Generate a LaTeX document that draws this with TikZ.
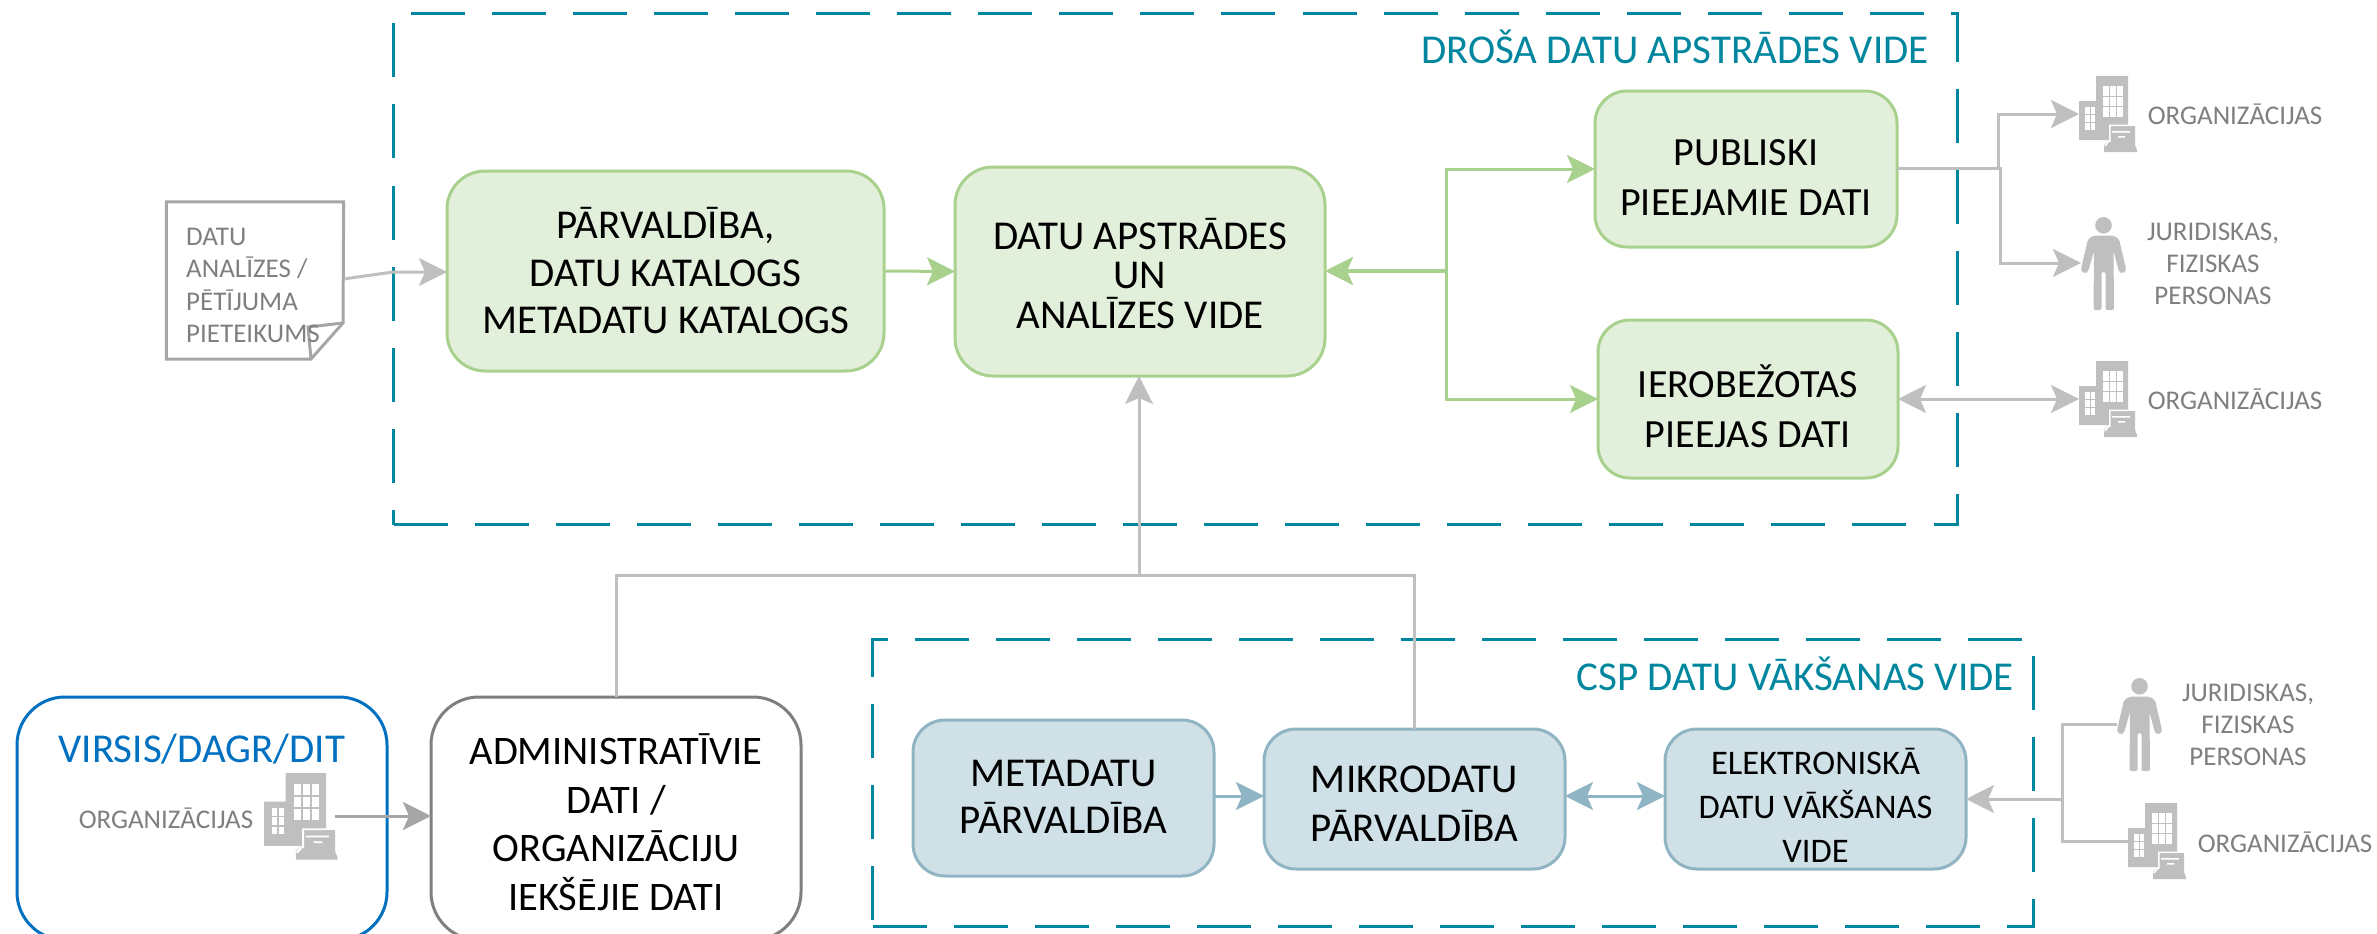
\documentclass[tikz,border=0pt]{standalone}
\usepackage{fontspec}
\setmainfont{Carlito}
\usetikzlibrary{arrows.meta,calc}
\definecolor{teal1}{HTML}{00869E}
\definecolor{gfill}{HTML}{E2EFDA}
\definecolor{gline}{HTML}{A9D18E}
\definecolor{bfill}{HTML}{CFE0E6}
\definecolor{bline}{HTML}{8FB4C4}
\definecolor{lg}{HTML}{BFBFBF}
\definecolor{mg}{HTML}{A6A6A6}
\definecolor{tg}{HTML}{7F7F7F}
\definecolor{vblue}{HTML}{0070C0}
\newcommand{\fs}[2]{\fontsize{#1}{#2}\selectfont}
\tikzset{
  x=1pt,y=-1pt,
  box/.style={rectangle,draw,line width=3pt,inner sep=0pt,outer sep=0pt,rounded corners=38pt},
  gbox/.style={box,draw=gline,fill=gfill},
  bbox/.style={box,draw=bline,fill=bfill,rounded corners=32pt},
  dbox/.style={rectangle,inner sep=0pt,outer sep=0pt},
  dline/.style={draw=teal1,line width=3pt,line join=miter},
  tx/.style={align=center,inner sep=0pt,text=black},
  gtx/.style={align=center,inner sep=0pt,text=tg,font=\fs{27}{32}},
  ttl/.style={inner sep=0pt,text=teal1,font=\fs{41}{44}},
  tip/.style={-{Stealth[length=28pt,width=28pt,inset=6pt]}},
  tiptwo/.style={{Stealth[length=28pt,width=28pt,inset=6pt]}-{Stealth[length=28pt,width=28pt,inset=6pt]}},
  grarrow/.style={color=gline,line width=3pt},
  blarrow/.style={color=bline,line width=3pt},
  bldg/.pic={
    \fill[lg] (0,25)--(17,25)--(17,0)--(49,0)--(49,50)--(56,50)--(56,69)--(58,74)--(58,76)--(25,76)--(25,69)--(29,64)--(0,64)--cycle;
    \fill[white] (30,48.5) rectangle (49,50) (30,48.5) rectangle (31.5,66);
    \fill[white] (29,64) -- (31.5,64) -- (27,70) -- (25,70) -- cycle;
    \fill[white] (33,55) rectangle (51,56.5) (39,60) rectangle (46,61.5);
    \foreach \c in {0,1,2}{\foreach \r in {0,1,2}{
      \fill[white] ({23.5+\c*7},{10+\r*10.7}) rectangle ({29.5+\c*7},{19.5+\r*10.7});}}
    \foreach \c in {0,1}{\foreach \r in {0,1,2}{
      \fill[white] ({6+\c*5.5},{31+\r*8}) rectangle ({10.5+\c*5.5},{37.5+\r*8});}}
  },
  prsn/.pic={
    \fill[lg] (22.5,8.3) circle (8.3);
    \fill[lg,rounded corners=2pt] (13,18.5)--(7,22)--(0,52)--(0.5,55)--(4,56.5)--(7,55)--(13,34)--(12.5,93)--(20.5,93)--(20.5,55)--(24.5,55)--(24.5,93)--(33,93)--(32.5,34)--(38,55)--(41,56.5)--(44.5,55)--(45,52)--(38,22)--(32,18.5)--cycle;
  }
}
\begin{document}
\begin{tikzpicture}
\useasboundingbox (0,0) rectangle (2377,934);
% dashed frames
\node[dbox,minimum width=1563.7pt,minimum height=510.7pt] (frameA) at (1175.15,269.35) {};
\draw[dline,dash pattern=on 54pt off 27.05pt,dash phase=39pt] (frameA.south west) -- (frameA.north west) -- (frameA.north east) -- (frameA.south east) -- cycle;
\node[dbox,minimum width=1161pt,minimum height=287.4pt] (frameB) at (1452.5,783) {};
\draw[dline,dash pattern=on 54pt off 27pt,dash phase=74.3pt] (frameB.south west) -- (frameB.north west) -- (frameB.north east) -- (frameB.south east) -- cycle;
\node[ttl,anchor=east] (titleA) at (1929,46.5) {DROŠA DATU APSTRĀDES VIDE};
\node[ttl,anchor=east] (titleB) at (2014,674) {CSP DATU VĀKŠANAS VIDE};
% green boxes
\node[gbox,minimum width=437pt,minimum height=200pt] (gov) at (665.5,271) {};
\node[tx,font=\fs{41}{47.5}] (govt) at (665.5,271) {PĀRVALDĪBA,\\DATU KATALOGS\\METADATU KATALOGS};
\node[gbox,minimum width=370pt,minimum height=209pt] (proc) at (1140,271.5) {};
\node[tx,font=\fs{41}{39.5}] (proct) at (1140,273.5) {DATU APSTRĀDES\\UN\\ANALĪZES VIDE};
\node[gbox,rounded corners=32pt,minimum width=302pt,minimum height=156pt] (pub) at (1746,169) {};
\node[tx,font=\fs{40}{50}] (pubt) at (1746,178) {PUBLISKI\\PIEEJAMIE DATI};
\node[gbox,rounded corners=32pt,minimum width=300pt,minimum height=158pt] (ier) at (1748,399) {};
\node[tx,font=\fs{40}{50}] (iert) at (1748,406) {IEROBEŽOTAS\\PIEEJAS DATI};
% blue boxes
\node[bbox,minimum width=301pt,minimum height=156pt] (meta) at (1063.5,798) {};
\node[tx,font=\fs{41}{47}] (metat) at (1063.5,797) {METADATU\\PĀRVALDĪBA};
\node[bbox,minimum width=301pt,minimum height=140pt] (mikro) at (1414.5,799) {};
\node[tx,font=\fs{41}{49}] (mikrot) at (1414.5,804) {MIKRODATU\\PĀRVALDĪBA};
\node[bbox,minimum width=301pt,minimum height=140pt] (elek) at (1815.5,799) {};
\node[tx,font=\fs{34.5}{44}] (elekt) at (1815.5,805) {ELEKTRONISKĀ\\DATU VĀKŠANAS\\VIDE};
% bottom boxes
\node[box,draw=vblue,rounded corners=48pt,minimum width=370pt,minimum height=243pt] (virsis) at (202,818.5) {};
\node[inner sep=0pt,text=vblue,font=\fs{41}{44}] (virsist) at (202,749) {VIRSIS/DAGR/DIT};
\node[box,draw=tg,rounded corners=48pt,minimum width=370pt,minimum height=243pt] (admin) at (616,818.5) {};
\node[tx,font=\fs{40.5}{48.5}] (admint) at (616,822) {ADMINISTRATĪVIE\\DATI /\\ORGANIZĀCIJU\\IEKŠĒJIE DATI};
% document
\node[inner sep=0pt,minimum width=177pt,minimum height=157pt] (doc) at (255,280.5) {};
\draw[mg,line width=3pt,line join=miter] (doc.north west) -- (doc.north east) -- (343,323) -- (311,359) -- (doc.south west) -- cycle;
\draw[mg,line width=3pt,line join=miter] (343,323) -- (308,327) -- (311,359);
\node[anchor=west,align=left,inner sep=0pt,text=tg,font=\fs{27}{32.5}] (doct) at (186,285.5) {DATU\\ANALĪZES /\\PĒTĪJUMA\\PIETEIKUMS};
% icons
\pic at (2079,76) {bldg};
\pic at (2079,361) {bldg};
\pic at (2081,217) {prsn};
\pic at (2117,678) {prsn};
\pic at (2128,803) {bldg};
\pic[xscale=1.27,yscale=1.14] at (264,773) {bldg};
% grey labels
\node[gtx] (l1) at (2235,114) {ORGANIZĀCIJAS};
\node[gtx] (l2) at (2213,264) {JURIDISKAS,\\FIZISKAS\\PERSONAS};
\node[gtx] (l3) at (2235,399) {ORGANIZĀCIJAS};
\node[gtx] (l4) at (2248,725) {JURIDISKAS,\\FIZISKAS\\PERSONAS};
\node[gtx] (l5) at (2285,842) {ORGANIZĀCIJAS};
\node[gtx] (l6) at (166,818) {ORGANIZĀCIJAS};
% connector points
\coordinate (org1) at (2079,114);
\coordinate (per1) at (2081,263);
\coordinate (org2) at (2079,399);
\coordinate (per2) at (2117,724);
\coordinate (org3) at (2128,841);
\coordinate (orgL) at (335,816);
\coordinate (jR) at (1446,271);
\coordinate (jB) at (1139,575);
\coordinate (jE) at (2062,799);
\coordinate (jP) at (1998,168);
\coordinate (jQ) at (2000,168);
\coordinate (bend) at (393,272);
% connectors
\draw[tip,mg,line width=3pt] (orgL) -- (orgL -| admin.west);
\draw[tip,lg,line width=3pt] (doc.east |- 0,279) -- (bend) -- (gov.west |- bend);
\draw[tip,grarrow] (gov.east) -- (proc.west);
\draw[tip,grarrow,line width=4pt] (jR) -- (proc.east |- jR);
\draw[tip,grarrow] (jR) |- (pub.west);
\draw[tip,grarrow] (jR) |- (ier.west);
\draw[tip,lg,line width=3pt] (pub.east |- jQ) -- (jP) |- (org1);
\draw[tip,lg,line width=3pt] (pub.east |- jQ) -- (jQ) |- (per1);
\draw[tiptwo,lg,line width=3pt] (ier.east) -- (org2);
\draw[tip,lg,line width=3pt] (jB) -- (proc.south -| jB);
\draw[lg,line width=3pt] (admin.north) |- (jB) -| (mikro.north);
\draw[tip,blarrow] (meta.east |- 0,796) -- (mikro.west |- 0,796);
\draw[tiptwo,blarrow] (mikro.east |- 0,796) -- (elek.west |- 0,796);
\draw[tip,lg,line width=3pt] (jE) -- (elek.east |- jE);
\draw[lg,line width=3pt] (per2) -| (jE) |- (org3);
\end{tikzpicture}
\end{document}
